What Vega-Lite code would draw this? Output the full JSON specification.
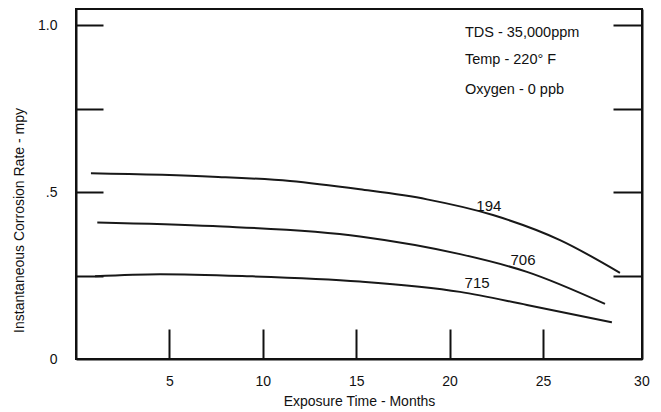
{
  "$schema": "https://vega.github.io/schema/vega-lite/v6.json",
  "width": 566,
  "height": 350,
  "autosize": {"type": "none"},
  "padding": {"left": 76, "top": 9, "right": 19, "bottom": 53},
  "background": "white",
  "config": {
    "font": "Liberation Sans",
    "view": {"stroke": "#111111", "strokeWidth": 2},
    "axis": {
      "domainColor": "#111111",
      "domainWidth": 2,
      "tickColor": "#111111",
      "tickWidth": 2,
      "labelColor": "#111111",
      "labelFont": "Liberation Sans",
      "labelFontSize": 14,
      "titleColor": "#111111",
      "titleFont": "Liberation Sans",
      "titleFontSize": 14,
      "titleFontWeight": "normal",
      "grid": false
    }
  },
  "datasets": {
    "curves": [
      {"series": "194", "month": 0.8, "rate": 0.556},
      {"series": "194", "month": 7.33, "rate": 0.546},
      {"series": "194", "month": 11.46, "rate": 0.533},
      {"series": "194", "month": 15.2, "rate": 0.508},
      {"series": "194", "month": 18.79, "rate": 0.478},
      {"series": "194", "month": 22.32, "rate": 0.431},
      {"series": "194", "month": 25.91, "rate": 0.356},
      {"series": "194", "month": 29.12, "rate": 0.258},
      {"series": "706", "month": 1.14, "rate": 0.409},
      {"series": "706", "month": 7.33, "rate": 0.398},
      {"series": "706", "month": 15.2, "rate": 0.367},
      {"series": "706", "month": 20.56, "rate": 0.314},
      {"series": "706", "month": 24.14, "rate": 0.261},
      {"series": "706", "month": 28.32, "rate": 0.165},
      {"series": "715", "month": 1.02, "rate": 0.248},
      {"series": "715", "month": 4.5, "rate": 0.254},
      {"series": "715", "month": 9.15, "rate": 0.248},
      {"series": "715", "month": 15.2, "rate": 0.232},
      {"series": "715", "month": 20.56, "rate": 0.201},
      {"series": "715", "month": 24.14, "rate": 0.162},
      {"series": "715", "month": 28.69, "rate": 0.11}
    ],
    "curveLabels": [
      {"label": "194", "month": 22.1, "rate": 0.458},
      {"label": "706", "month": 23.93, "rate": 0.296},
      {"label": "715", "month": 21.47, "rate": 0.228}
    ],
    "notes": [
      {"label": "TDS - 35,000ppm", "month": 20.82, "rate": 0.976},
      {"label": "Temp - 220° F", "month": 20.82, "rate": 0.895},
      {"label": "Oxygen - 0 ppb", "month": 20.82, "rate": 0.805}
    ]
  },
  "layer": [
    {
      "data": {"name": "curves"},
      "mark": {"type": "line", "interpolate": "monotone", "color": "#181818", "strokeWidth": 2},
      "encoding": {
        "x": {
          "field": "month", "type": "quantitative",
          "scale": {"domain": [0, 30.3], "nice": false, "zero": false},
          "axis": {
            "title": "Exposure Time - Months",
            "values": [5, 10, 15, 20, 25, 30],
            "tickSize": -30,
            "labelPadding": 45,
            "tickOpacity": {"condition": {"test": "datum.value >= 30", "value": 0}, "value": 1},
            "labelOffset": {"condition": {"test": "datum.value >= 30", "value": 5}, "value": 0},
            "labelFlush": false,
            "titleX": 283,
            "titleY": 42,
            "titleBaseline": "middle",
            "titleAlign": "center"
          }
        },
        "y": {
          "field": "rate", "type": "quantitative",
          "scale": {"domain": [0, 1.048], "nice": false},
          "axis": {
            "title": "Instantaneous Corrosion Rate - mpy",
            "values": [0, 0.25, 0.5, 0.75, 1],
            "labelExpr": "datum.value == 0 ? '0' : datum.value == 0.5 ? '.5' : datum.value == 1 ? '1.0' : ''",
            "tickSize": -27,
            "labelPadding": 46,
            "tickOpacity": {"condition": {"test": "datum.value == 0", "value": 0}, "value": 1},
            "labelFlush": false,
            "titleAngle": -90,
            "titleX": -57,
            "titleY": 211,
            "titleBaseline": "middle",
            "titleAlign": "center"
          }
        },
        "detail": {"field": "series", "type": "nominal"}
      }
    },
    {
      "data": {"name": "curves"},
      "mark": {"type": "line", "opacity": 0},
      "encoding": {
        "x": {"field": "month", "type": "quantitative"},
        "y": {
          "field": "rate", "type": "quantitative",
          "axis": {
            "orient": "right",
            "title": null,
            "values": [0.25, 0.5, 0.75, 1],
            "labels": false,
            "tickSize": -29
          }
        },
        "detail": {"field": "series", "type": "nominal"}
      }
    },
    {
      "data": {"name": "curveLabels"},
      "mark": {"type": "text", "fontSize": 15, "color": "#111111", "align": "center", "baseline": "middle"},
      "encoding": {
        "x": {"field": "month", "type": "quantitative"},
        "y": {"field": "rate", "type": "quantitative", "axis": null},
        "text": {"field": "label"}
      }
    },
    {
      "data": {"name": "notes"},
      "mark": {"type": "text", "fontSize": 14.5, "color": "#111111", "align": "left", "baseline": "middle"},
      "encoding": {
        "x": {"field": "month", "type": "quantitative"},
        "y": {"field": "rate", "type": "quantitative", "axis": null},
        "text": {"field": "label"}
      }
    }
  ],
  "resolve": {"axis": {"y": "independent"}}
}
